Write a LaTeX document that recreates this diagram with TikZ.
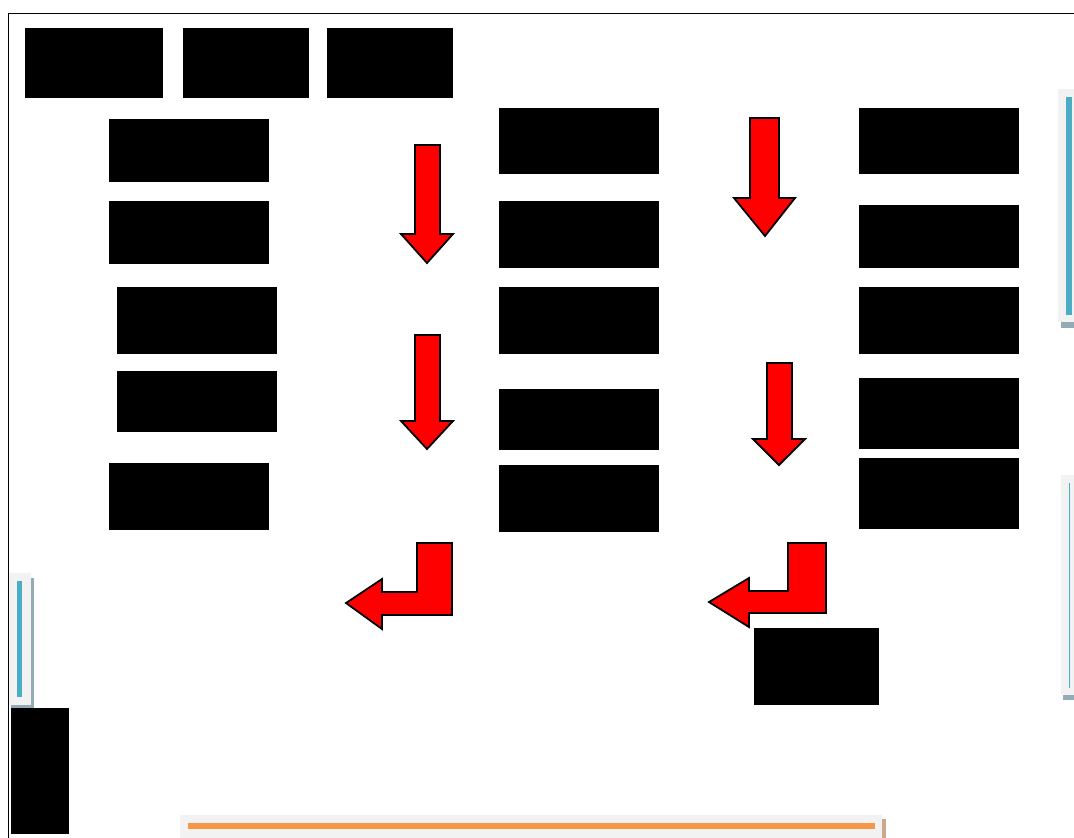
\documentclass[tikz,border=0pt]{standalone}
\begin{document}
\begin{tikzpicture}[x=1pt,y=-1pt,
  blk/.style={fill=black,draw=none,inner sep=0pt,outer sep=0pt,anchor=north west},
  redarrow/.style={fill=red,draw=black,line width=1.8pt,line join=miter}]
\definecolor{barblue}{HTML}{4BACC6}
\definecolor{barorange}{HTML}{F79646}
\definecolor{shadowblue}{HTML}{93ABB5}
\definecolor{shadowtan}{HTML}{CBA88A}
\definecolor{panelgray}{HTML}{F2F2F2}
\useasboundingbox (0,0) rectangle (1074,838);
% frame
\coordinate (f1) at (1074,13);
\coordinate (f2) at (8,13);
\coordinate (f3) at (8,838);
\draw[line width=0.9pt] (f1) -- (f2) -- (f3);
% top row
\node[blk,minimum width=138pt,minimum height=70pt] (t1) at (25,28) {};
\node[blk,minimum width=126pt,minimum height=70pt] (t2) at (183,28) {};
\node[blk,minimum width=126pt,minimum height=70pt] (t3) at (327,28) {};
% left column
\node[blk,minimum width=160pt,minimum height=63pt] (l1) at (109,119) {};
\node[blk,minimum width=160pt,minimum height=63pt] (l2) at (109,201) {};
\node[blk,minimum width=160pt,minimum height=67pt] (l3) at (117,287) {};
\node[blk,minimum width=160pt,minimum height=61pt] (l4) at (117,371) {};
\node[blk,minimum width=160pt,minimum height=67pt] (l5) at (109,463) {};
% middle column
\node[blk,minimum width=160pt,minimum height=66pt] (m1) at (499,108) {};
\node[blk,minimum width=160pt,minimum height=67pt] (m2) at (499,201) {};
\node[blk,minimum width=160pt,minimum height=67pt] (m3) at (499,287) {};
\node[blk,minimum width=160pt,minimum height=61pt] (m4) at (499,389) {};
\node[blk,minimum width=160pt,minimum height=67pt] (m5) at (499,465) {};
% right column
\node[blk,minimum width=160pt,minimum height=66pt] (r1) at (859,108) {};
\node[blk,minimum width=160pt,minimum height=63pt] (r2) at (859,205) {};
\node[blk,minimum width=160pt,minimum height=67pt] (r3) at (859,287) {};
\node[blk,minimum width=160pt,minimum height=71pt] (r4) at (859,378) {};
\node[blk,minimum width=160pt,minimum height=71pt] (r5) at (859,458) {};
% other boxes
\node[blk,minimum width=125pt,minimum height=77pt] (b1) at (754,628) {};
\node[blk,minimum width=58pt,minimum height=126pt] (b2) at (11,708) {};
% red down arrows
\draw[redarrow] (415,145) -- (440,145) -- (440,234) -- (453,234) -- (427,263) -- (401,234) -- (415,234) -- cycle;
\draw[redarrow] (415,335) -- (440,335) -- (440,421) -- (453,421) -- (427,449) -- (401,421) -- (415,421) -- cycle;
\draw[redarrow] (750,118) -- (779,118) -- (779,198) -- (795,198) -- (765,236) -- (734,198) -- (750,198) -- cycle;
\draw[redarrow] (767,363) -- (792,363) -- (792,439) -- (805,439) -- (779,465) -- (753,439) -- (767,439) -- cycle;
% L arrows
\draw[redarrow] (417,543) -- (452,543) -- (452,615) -- (382,615) -- (382,629) -- (346,603) -- (382,579) -- (382,592) -- (417,592) -- cycle;
\draw[redarrow] (788,543) -- (826,543) -- (826,613) -- (749,613) -- (749,627) -- (709,602) -- (749,578) -- (749,591) -- (788,591) -- cycle;
% right top bar
\fill[shadowblue] (1061,322) rectangle (1074,328);
\fill[panelgray] (1058,89) rectangle (1074,322);
\fill[barblue] (1066,97) rectangle (1072,315);
% right bottom bar
\fill[shadowblue] (1063,695) rectangle (1074,700);
\fill[panelgray] (1061,475) rectangle (1074,695);
\fill[barblue] (1068.5,483) rectangle (1070,688);
% left bar
\fill[shadowblue] (11,578) rectangle (34,708);
\fill[panelgray] (9,573) rectangle (31,705);
\fill[barblue] (17,581) rectangle (22,697);
% bottom bar
\fill[shadowtan] (183,819) rectangle (886,838);
\fill[panelgray] (180,815) rectangle (882,838);
\fill[barorange] (188,823) rectangle (875,829);
\end{tikzpicture}
\end{document}
